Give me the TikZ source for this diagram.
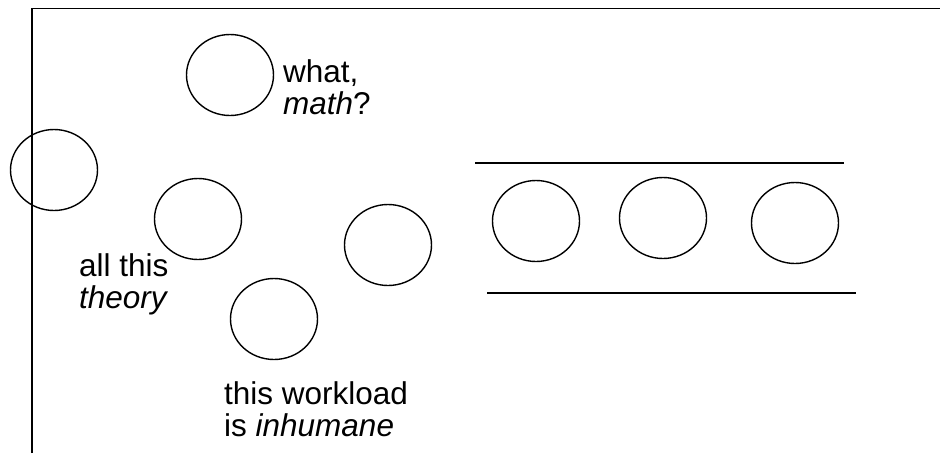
\documentclass[tikz,border=0pt]{standalone}
\usepackage{fontspec}
\setmainfont{Liberation Sans}
\usetikzlibrary{shapes.geometric}
\begin{document}
\begin{tikzpicture}[x=1pt,y=-1pt,
  blob/.style={draw, line width=1.4pt, ellipse, inner sep=0pt,
    minimum width=87pt, minimum height=81pt},
  rule/.style={line width=1.6pt},
  remark/.style={anchor=base west, inner sep=0pt, align=left,
    font=\fontsize{31.5}{32}\selectfont}]
  \useasboundingbox (0,0) rectangle (940,453);

  % frame corner
  \coordinate (fl) at (32,453);
  \coordinate (fc) at (32,8.5);
  \coordinate (fr) at (940,8.5);
  \draw[rule] (fl) -- (fc) -- (fr);

  % scattered circles
  \node[blob] (c1) at (230,75) {};
  \node[blob] (c2) at (54,170) {};
  \node[blob] (c3) at (198,219) {};
  \node[blob] (c4) at (388,245) {};
  \node[blob] (c5) at (274,319) {};

  % remarks (anchored on the baseline of their last line)
  \node[remark] (t1) at (283,114) {what,\\\textit{math}?};
  \node[remark] (t2) at (79,308) {all this\\\textit{theory}};
  \node[remark] (t3) at (224,436) {this workload\\is \textit{inhumane}};

  % orderly row between two rules
  \coordinate (ua) at (475,163);
  \coordinate (ub) at (844,163);
  \coordinate (la) at (487,293);
  \coordinate (lb) at (856,293);
  \draw[rule] (ua) -- (ub);
  \draw[rule] (la) -- (lb);
  \node[blob] (r1) at (536,221) {};
  \node[blob] (r2) at (663,218) {};
  \node[blob] (r3) at (795,223) {};
\end{tikzpicture}
\end{document}
